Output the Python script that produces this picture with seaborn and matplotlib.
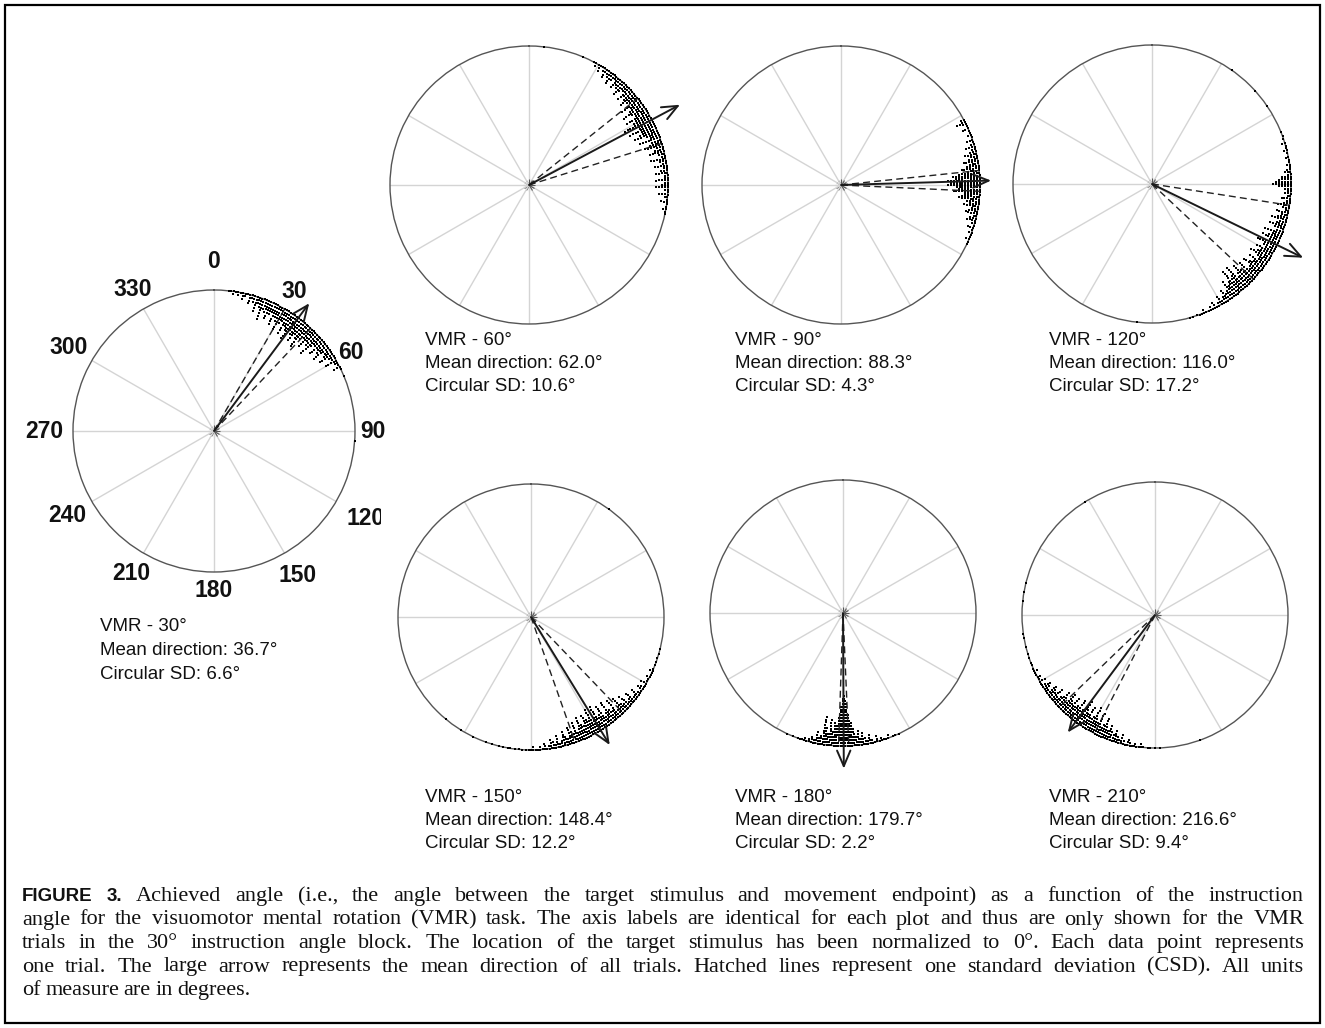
import matplotlib
matplotlib.use("Agg")
import matplotlib.pyplot as plt
import numpy as np
import pandas as pd
import seaborn as sns
from matplotlib.patches import Rectangle
from matplotlib.transforms import Bbox, TransformedBbox, IdentityTransform

sns.set_theme(style="white")
plt.rcParams["font.family"] = ["Liberation Sans", "DejaVu Sans"]

W, H = 1325, 1028

# ---- data ---------------------------------------------------------------
instruction = [30, 60, 90, 120, 150, 180, 210]
mean_dir = [36.7, 62.0, 88.3, 116.0, 148.4, 179.7, 216.6]
circ_sd = [6.6, 10.6, 4.3, 17.2, 12.2, 2.2, 9.4]
arrow_len = [1.13, 1.23, 1.08, 1.21, 1.13, 1.17, 1.10]

# stacked dots: trials per 1-degree bin, first bin angle given separately
start_30 = 6
counts_30 = [1, 1, 2, 1, 2, 1, 3, 2, 1, 4, 2, 3, 6, 3, 4, 8, 4, 5, 7, 5, 4, 8, 5, 6,
             9, 6, 5, 9, 6, 7, 10, 6, 7, 9, 6, 7, 10, 6, 5, 8, 5, 6, 9, 5, 4, 7, 4, 5,
             7, 3, 4, 6, 3, 2, 5, 2, 1, 3, 1]
outliers_30 = [67, 94]

start_60 = 28
counts_60 = [1, 2, 1, 3, 1, 2, 4, 2, 3, 5, 3, 2, 5, 3, 4, 6, 4, 3, 6, 4, 5, 7, 5, 4,
             8, 5, 6, 9, 6, 5, 9, 6, 7, 11, 7, 6, 10, 6, 7, 9, 5, 4, 8, 4, 5, 7, 3, 4,
             6, 3, 2, 6, 3, 2, 5, 2, 3, 5, 2, 2, 5, 2, 3, 5, 2, 1, 4, 2, 1, 3, 1, 1,
             2, 1, 1]
outliers_60 = [6, 23]

start_90 = 62
counts_90 = [2, 4, 2, 1, 3, 1, 1, 2, 1, 3, 1, 2, 4, 2, 3, 5, 3, 4, 6, 4, 5, 7, 5, 8,
             10, 9, 12, 11, 12, 9, 8, 10, 6, 7, 8, 5, 4, 6, 3, 4, 5, 2, 3, 4, 2, 1, 3,
             1, 2, 1, 1, 2, 1, 1]
outliers_90 = []

start_120 = 68
counts_120 = [1, 0, 1, 1, 0, 2, 1, 1, 2, 1, 0, 2, 1, 1, 2, 1, 2, 3, 2, 4, 5, 6, 7, 5,
              3, 2, 3, 2, 4, 2, 3, 5, 3, 2, 5, 3, 4, 6, 3, 4, 6, 4, 3, 7, 4, 5, 7, 4,
              5, 8, 5, 4, 7, 5, 6, 8, 5, 4, 7, 5, 6, 8, 5, 4, 8, 5, 6, 9, 6, 5, 10, 7,
              6, 10, 6, 5, 7, 4, 3, 5, 3, 2, 4, 2, 1, 3, 1, 2, 1, 1, 2, 1, 1, 1, 0, 1,
              1]
outliers_120 = [35, 48, 56, 186]

start_150 = 104
counts_150 = [1, 0, 1, 0, 1, 0, 1, 1, 0, 1, 2, 1, 1, 2, 1, 1, 3, 1, 2, 3, 1, 2, 4, 2,
              2, 5, 3, 2, 6, 3, 4, 7, 4, 3, 8, 4, 5, 9, 5, 4, 9, 6, 5, 10, 6, 5, 10, 6,
              7, 9, 5, 6, 9, 5, 4, 8, 4, 5, 7, 3, 4, 6, 3, 2, 5, 2, 3, 4, 2, 1, 3, 1,
              2, 1, 1, 2, 1, 1, 1, 0, 1, 1, 0, 1, 0, 1, 1, 0, 1, 0, 1, 0, 0, 1, 0, 0,
              1]
outliers_150 = [36, 206, 212, 220]

start_180 = 155
counts_180 = [1, 0, 1, 1, 0, 2, 1, 1, 2, 1, 3, 1, 2, 4, 2, 3, 5, 3, 6, 4, 7, 9, 12,
              16, 19, 18, 15, 11, 8, 9, 6, 10, 5, 7, 11, 4, 3, 5, 2, 3, 2, 1, 2, 1, 1,
              1, 0, 1, 0, 0, 1]
outliers_180 = []

start_210 = 178
counts_210 = [1, 0, 1, 0, 1, 1, 0, 1, 2, 1, 1, 2, 1, 2, 3, 1, 2, 4, 2, 3, 5, 3, 4, 6,
              4, 5, 8, 5, 4, 9, 5, 6, 10, 6, 5, 9, 6, 7, 10, 6, 5, 9, 6, 5, 8, 5, 6, 8,
              4, 5, 7, 4, 3, 6, 3, 4, 5, 2, 3, 4, 2, 1, 3, 1, 2, 1, 1, 2, 1, 0, 1, 1,
              0, 1, 0, 1, 0, 0, 1, 0, 0, 0, 1, 0, 1]
outliers_210 = [160, 276, 280, 284, 328]

starts = [start_30, start_60, start_90, start_120, start_150, start_180, start_210]
counts = [counts_30, counts_60, counts_90, counts_120, counts_150, counts_180, counts_210]
outliers = [outliers_30, outliers_60, outliers_90, outliers_120, outliers_150,
            outliers_180, outliers_210]

axis_labels = ["0", "30", "60", "90", "120", "150", "180", "210", "240", "270", "300", "330"]

caption = [
    "FIGURE 3. Achieved angle (i.e., the angle between the target stimulus and movement endpoint) as a function of the instruction",
    "angle for the visuomotor mental rotation (VMR) task. The axis labels are identical for each plot and thus are only shown for the VMR",
    "trials in the 30\u00b0 instruction angle block. The location of the target stimulus has been normalized to 0\u00b0. Each data point represents",
    "one trial. The large arrow represents the mean direction of all trials. Hatched lines represent one standard deviation (CSD). All units",
    "of measure are in degrees.",
]

# ---- layout (pixel centre x, centre y, radius) and text anchors ----------
geom = [(214, 431, 141), (529, 185, 139), (841, 185, 139), (1152, 184, 139),
        (531, 617, 133), (843, 613, 133), (1155, 615, 133)]
text_pos = [(100, 624), (425, 338), (735, 338), (1049, 338),
            (425, 795), (735, 795), (1049, 795)]
label_r = [1.20, 1.14, 1.12, 1.13, 1.24, 1.18, 1.13, 1.17, 1.20, 1.20, 1.19, 1.16]
STEP = 0.021

fig = plt.figure(figsize=(W / 100, H / 100), dpi=100)
fig.patch.set_facecolor("white")

for i, (cx, cy, r) in enumerate(geom):
    ax = fig.add_axes([(cx - r) / W, (H - cy - r) / H, 2 * r / W, 2 * r / H],
                      projection="polar")
    ax.set_theta_zero_location("N")
    ax.set_theta_direction(-1)
    ax.set_rlim(0, 1)
    ax.set_yticks([])
    ax.set_xticks(np.deg2rad(np.arange(0, 360, 30)))
    ax.set_xticklabels([])
    ax.grid(True, color="#d4d4d4", lw=1.0)
    ax.set_axisbelow(True)
    ax.spines["polar"].set_color("#555555")
    ax.spines["polar"].set_linewidth(1.0)
    ax.tick_params(axis="x", which="major", length=4, width=0.8, color="#555555",
                   direction="out", bottom=True, top=False)

    rows = []
    for k, c in enumerate(counts[i]):
        for lev in range(c):
            rows.append((starts[i] + k, 1 - STEP * lev))
    for a in outliers[i]:
        rows.append((a, 1.0))
    df = pd.DataFrame(rows, columns=["angle", "r"])
    df["theta"] = np.deg2rad(df["angle"])
    sns.scatterplot(data=df, x="theta", y="r", ax=ax, marker="s", s=4.6,
                    color="black", linewidth=0, clip_on=False, zorder=3, legend=False)
    ax.set_xlabel("")
    ax.set_ylabel("")

    m = np.deg2rad(mean_dir[i])
    for d in (mean_dir[i] - circ_sd[i], mean_dir[i] + circ_sd[i]):
        ax.plot([np.deg2rad(d)] * 2, [0, 1], color="#222222", lw=1.0,
                dashes=(5, 3), zorder=4)
    ax.annotate("", xy=(m, arrow_len[i]), xytext=(0, 0), annotation_clip=False,
                arrowprops=dict(arrowstyle="->,head_length=0.7,head_width=0.3",
                                lw=1.4, color="#1a1a1a", shrinkA=0, shrinkB=0,
                                mutation_scale=16), zorder=5)

    if i == 0:
        clip = TransformedBbox(Bbox([[0, 0], [381, H]]), IdentityTransform())
        for lab, lr in zip(axis_labels, label_r):
            t = ax.text(np.deg2rad(int(lab)), lr, lab, ha="center", va="center",
                        fontsize=16.5, fontweight="bold", color="#111111", clip_on=False)
            if lab == "120":
                t.set_clip_on(True)
                t.set_clip_box(clip)

    tx, ty = text_pos[i]
    lines = ["VMR - %d\u00b0" % instruction[i],
             "Mean direction: %.1f\u00b0" % mean_dir[i],
             "Circular SD: %.1f\u00b0" % circ_sd[i]]
    step = 24 if i == 0 else 23
    for j, s in enumerate(lines):
        fig.text(tx / W, 1 - (ty + 7 + j * step) / H, s, fontsize=13.5,
                 va="baseline", ha="left", color="#111111")

# ---- justified caption --------------------------------------------------
renderer = fig.canvas.get_renderer()
X0, X1 = 22, 1304
cap_y = [895, 918.5, 942, 965.5, 989]
CAP_FS = 16


def caption_words(line, li, fs):
    arts = []
    for w in line.split(" "):
        bold = li == 0 and w in ("FIGURE", "3.")
        arts.append(fig.text(0, 0, w, fontsize=13.5 if bold else fs,
                             family=["Liberation Sans"] if bold else ["Liberation Serif", "DejaVu Serif"],
                             fontweight="bold" if bold else "normal",
                             va="baseline", ha="left", color="#111111"))
    return arts


for li, line in enumerate(caption):
    fs = CAP_FS
    arts = caption_words(line, li, fs)
    widths = [a.get_window_extent(renderer).width for a in arts]
    n = len(arts)
    if li < len(caption) - 1 and sum(widths) + 3.5 * (n - 1) > X1 - X0:
        for a in arts:
            a.remove()
        fs = CAP_FS * (X1 - X0 - 3.5 * (n - 1)) / sum(widths)
        arts = caption_words(line, li, fs)
        widths = [a.get_window_extent(renderer).width for a in arts]
    if li < len(caption) - 1:
        gap = (X1 - X0 - sum(widths)) / (n - 1)
    else:
        gap = 4.5
    x = X0
    for a, w in zip(arts, widths):
        a.set_position((x / W, 1 - (cap_y[li] + 6) / H))
        x += w + gap

fig.patches.append(Rectangle((5 / W, 1 - 1023 / H), 1315 / W, 1018 / H,
                             transform=fig.transFigure, fill=False,
                             edgecolor="black", lw=1.6))

fig.savefig("out.png", dpi=100)
